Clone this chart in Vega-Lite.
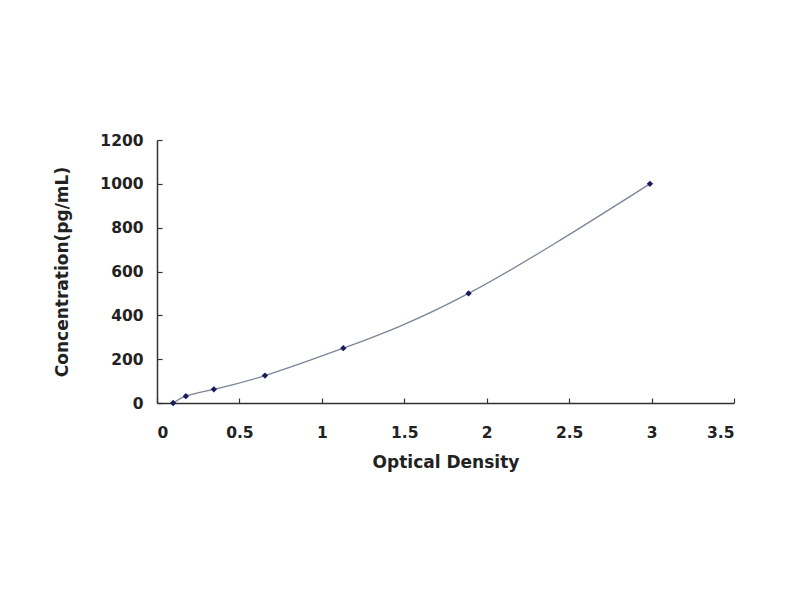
{
  "$schema": "https://vega.github.io/schema/vega-lite/v6.json",
  "autosize": "none",
  "padding": {"left": 157, "top": 140, "right": 66, "bottom": 197},
  "width": 577,
  "height": 263,
  "background": "white",
  "config": {
    "view": {"stroke": null},
    "axis": {
      "grid": false,
      "domainColor": "#333333",
      "domainWidth": 1.5,
      "tickColor": "#333333",
      "tickWidth": 1.2,
      "tickSize": -5,
      "labelFont": "DejaVu Sans",
      "labelFontSize": 15.5,
      "labelFontWeight": "bold",
      "labelColor": "#222222",
      "titleFont": "DejaVu Sans",
      "titleFontSize": 17,
      "titleFontWeight": "bold",
      "titleColor": "#222222"
    }
  },
  "data": {
    "values": [
      {"od": 0.098, "conc": 0},
      {"od": 0.175, "conc": 31.25},
      {"od": 0.345, "conc": 62.5},
      {"od": 0.655, "conc": 125},
      {"od": 1.13, "conc": 250},
      {"od": 1.89, "conc": 500},
      {"od": 2.99, "conc": 1000}
    ]
  },
  "encoding": {
    "x": {
      "field": "od",
      "type": "quantitative",
      "title": "Optical Density",
      "scale": {"domain": [0, 3.5], "nice": false, "zero": true},
      "axis": {"values": [0, 0.5, 1, 1.5, 2, 2.5, 3, 3.5], "format": "~g", "labelPadding": 27, "titlePadding": 14}
    },
    "y": {
      "field": "conc",
      "type": "quantitative",
      "title": "Concentration(pg/mL)",
      "scale": {"domain": [0, 1200], "nice": false},
      "axis": {"values": [0, 200, 400, 600, 800, 1000, 1200], "format": "d", "labelPadding": 19, "titlePadding": 28}
    }
  },
  "layer": [
    {
      "mark": {"type": "line", "interpolate": "natural", "color": "#7a8598", "strokeWidth": 1.3}
    },
    {
      "mark": {"type": "point", "shape": "diamond", "filled": true, "color": "#1a1a5e", "size": 40, "opacity": 1}
    }
  ]
}
